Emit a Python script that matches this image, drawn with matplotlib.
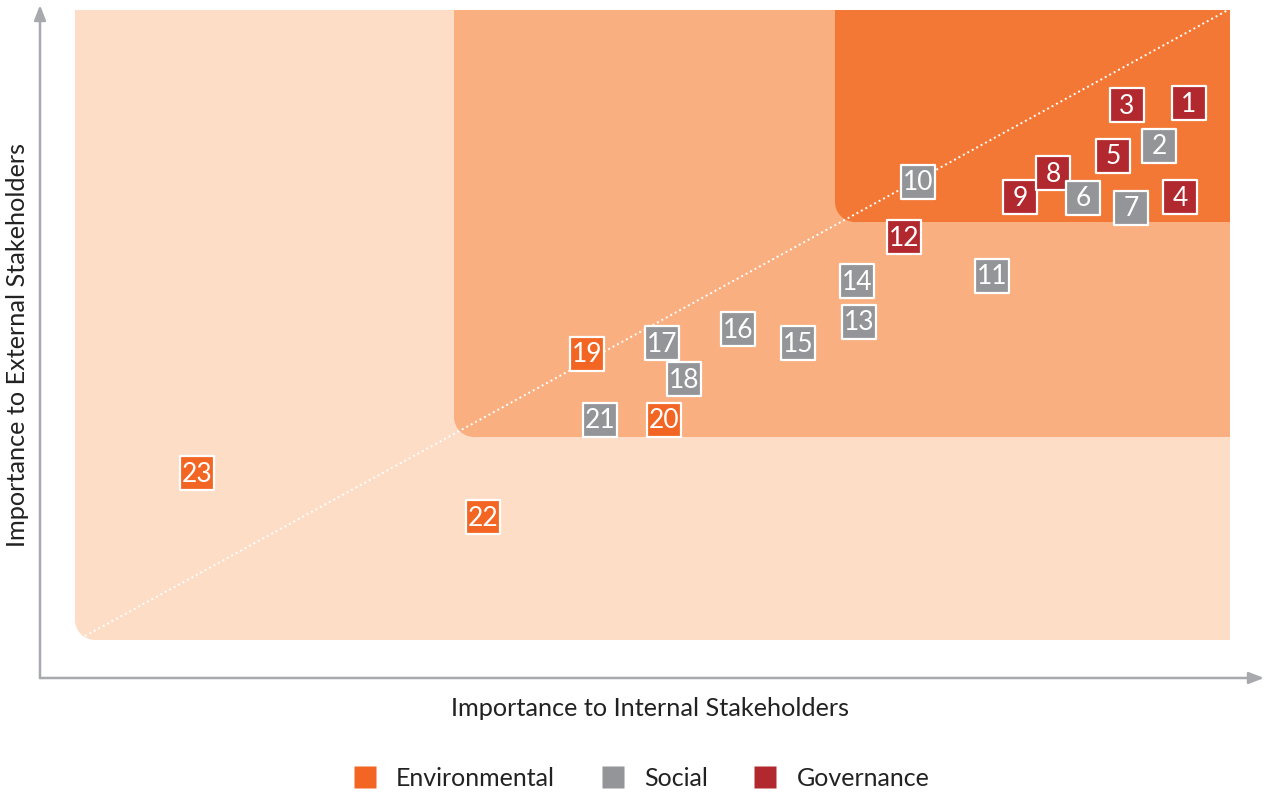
import matplotlib
matplotlib.use("Agg")
import matplotlib.pyplot as plt
from matplotlib.path import Path
from matplotlib.patches import PathPatch
from matplotlib.lines import Line2D

plt.rcParams['font.family'] = ['Lato', 'DejaVu Sans']

# ---- data ----
topic_ids = [1, 2, 3, 4, 5, 6, 7, 8, 9, 10, 11, 12, 13, 14, 15, 16, 17, 18, 19, 20, 21, 22, 23]
internal = [114.9, 111.9, 108.7, 114.0, 107.3, 104.3, 109.1, 101.3, 98.0, 87.8, 95.2, 86.4,
            81.9, 81.7, 75.8, 69.8, 62.2, 64.4, 54.7, 62.4, 56.0, 44.3, 15.7]
external = [57.5, 53.2, 57.3, 48.1, 52.2, 48.0, 47.0, 50.5, 48.1, 49.6, 40.2, 44.1,
            35.6, 39.7, 33.5, 34.9, 33.5, 29.9, 32.4, 25.8, 25.8, 16.1, 20.5]
category = ['Governance', 'Social', 'Governance', 'Governance', 'Governance', 'Social', 'Social',
            'Governance', 'Governance', 'Social', 'Social', 'Governance', 'Social', 'Social',
            'Social', 'Social', 'Social', 'Social', 'Environmental', 'Environmental', 'Social',
            'Environmental', 'Environmental']
categories = ['Environmental', 'Social', 'Governance']
colors = {'Environmental': '#F26522', 'Social': '#939598', 'Governance': '#B1282F'}
xlabel = 'Importance to Internal Stakeholders'
ylabel = 'Importance to External Stakeholders'

# zone thresholds (x_min, y_min) sharing the same top-right corner
zone_right, zone_top = 119.0, 66.8
zones = [(3.5, 3.8, '#FEDDC6'), (41.4, 24.1, '#F9AF80'), (79.5, 45.6, '#F47835')]

W, H = 1265, 794
fig = plt.figure(figsize=(W / 100, H / 100), dpi=100)
ax = fig.add_axes([40 / W, 116 / H, 1222 / W, 670 / H])
ax.set_xlim(0, 122.2)
ax.set_ylim(0, 67.0)
ax.axis('off')


def zone_patch(x0, y0, x1, y1, r, color):
    k = 0.5523
    verts = [(x0, y1), (x0, y0 + r),
             (x0, y0 + r - k * r), (x0 + r - k * r, y0), (x0 + r, y0),
             (x1, y0), (x1, y1), (x0, y1)]
    codes = [Path.MOVETO, Path.LINETO, Path.CURVE4, Path.CURVE4, Path.CURVE4,
             Path.LINETO, Path.LINETO, Path.CLOSEPOLY]
    return PathPatch(Path(verts, codes), facecolor=color, edgecolor='none', zorder=1)


for x0, y0, c in zones:
    ax.add_patch(zone_patch(x0, y0, zone_right, zone_top, 2.0, c))

# diagonal dotted line
ax.plot([4.5, 118.8], [4.2, 66.8], color='white', lw=1.4, linestyle=(0, (1, 1.6)), zorder=2)

# axes arrows
arrow_kw = dict(arrowstyle='-|>,head_length=0.9,head_width=0.35', color='#A7A9AC', lw=1.8,
                shrinkA=0, shrinkB=0)
ax.annotate('', xy=(0, 67.3), xytext=(0, 0), arrowprops=arrow_kw, annotation_clip=False)
ax.annotate('', xy=(122.4, 0), xytext=(0, 0), arrowprops=arrow_kw, annotation_clip=False)

# topic markers, drawn from last to first so lower numbers sit on top
order = list(range(len(topic_ids)))[::-1]
for k, i in enumerate(order):
    z = 10 + 2 * k
    ax.scatter([internal[i]], [external[i]], marker='s', s=580,
               facecolor=colors[category[i]], edgecolor='white', linewidth=1.6, zorder=z)
    ax.text(internal[i], external[i] - 0.1, str(topic_ids[i]), color='white', fontsize=19,
            ha='center', va='center', zorder=z + 1)

fig.text(650 / W, 1 - 708 / H, xlabel, ha='center', va='center', fontsize=18.2, color='#222222')
fig.text(18 / W, 1 - 345 / H, ylabel, ha='center', va='center', rotation=90, fontsize=18.2,
         color='#222222')

handles = [Line2D([], [], marker='s', linestyle='none', markersize=16,
                  markerfacecolor=colors[c], markeredgecolor='none') for c in categories]
fig.legend(handles, categories, loc='center', bbox_to_anchor=(641 / W, 1 - 778 / H), ncol=3,
           frameon=False, fontsize=18, handlelength=1.0, handletextpad=0.75,
           columnspacing=1.8, labelcolor='#222222')

fig.savefig('out.png', dpi=100)
